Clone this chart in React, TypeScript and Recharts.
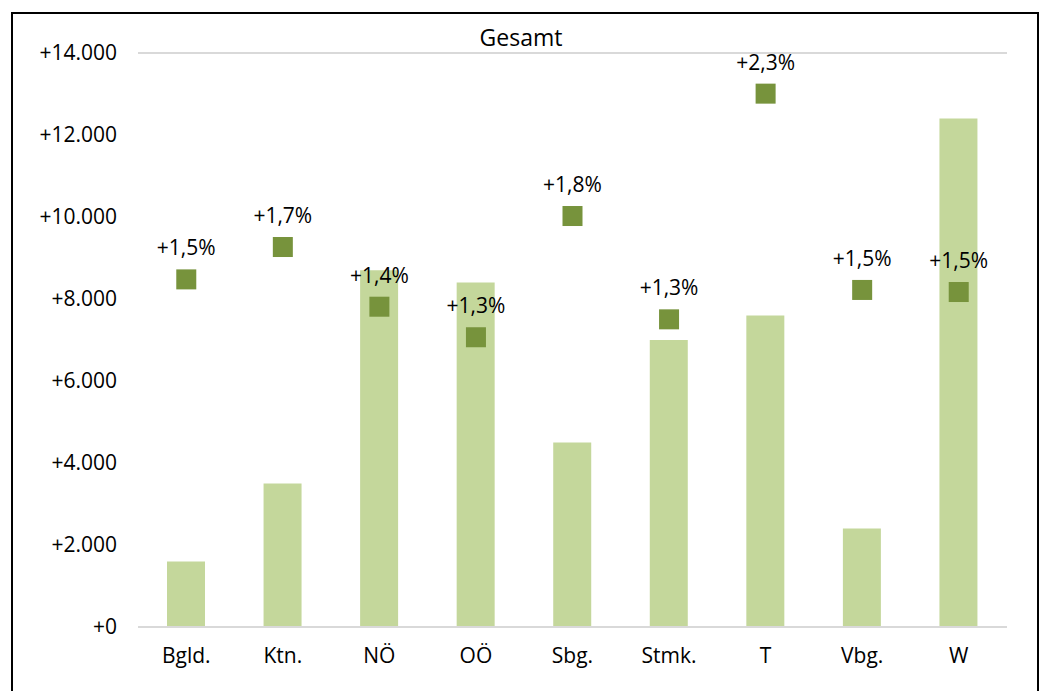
import React from "react";
import { ComposedChart, Bar, Line, XAxis, YAxis, CartesianGrid } from "recharts";

const categories = ["Bgld.", "Ktn.", "NÖ", "OÖ", "Sbg.", "Stmk.", "T", "Vbg.", "W"];
const absoluteValues = [1600, 3500, 8700, 8400, 4500, 7000, 7600, 2400, 12400];
const percentValues = [1.514, 1.655, 1.395, 1.262, 1.79, 1.34, 2.323, 1.468, 1.459];
const yTicks = [0, 2000, 4000, 6000, 8000, 10000, 12000, 14000];

const data = categories.map((name, i) => ({
  name,
  abs: absoluteValues[i],
  pct: percentValues[i],
}));

const FONT = "'Open Sans', 'Noto Sans', sans-serif";

const fmtAbs = (v: number) => "+" + v.toLocaleString("de-DE");
const fmtPct = (v: number) => "+" + v.toFixed(1).replace(".", ",") + "%";

const SquareDot = (props: any) => {
  const { cx, cy, index } = props;
  if (cx == null || cy == null) return null;
  return <rect key={`sq-${index}`} x={cx - 10} y={cy - 10} width={20} height={20} fill="#77933c" />;
};

const PctLabel = (props: any) => {
  const { x, y, value, index } = props;
  if (x == null || y == null) return null;
  return (
    <text
      key={`lbl-${index}`}
      x={x}
      y={y - 32}
      textAnchor="middle"
      dominantBaseline="central"
      fontFamily={FONT}
      fontSize={21}
      fill="#000"
    >
      {fmtPct(value)}
    </text>
  );
};

export default function App() {
  return (
    <div style={{ position: "absolute", left: 0, top: 0, width: 1042, height: 691, overflow: "hidden", background: "#fff" }}>
      <div
        style={{
          position: "absolute",
          left: 11,
          top: 12,
          width: 1028,
          height: 720,
          border: "2px solid #000",
          boxSizing: "border-box",
        }}
      />
      <div style={{ position: "absolute", left: 0, top: 0 }}>
        <ComposedChart
          width={1042}
          height={691}
          data={data}
          margin={{ top: 53, right: 35, bottom: 0, left: 0 }}
          barSize={38}
        >
          <text x={521} y={37} textAnchor="middle" dominantBaseline="central" fontFamily={FONT} fontSize={23} fill="#000">
            Gesamt
          </text>
          <CartesianGrid vertical={false} stroke="#d9d9d9" strokeWidth={2} />
          <XAxis
            dataKey="name"
            height={64}
            axisLine={{ stroke: "#d9d9d9", strokeWidth: 2 }}
            tickLine={false}
            tickSize={0}
            tickMargin={21}
            tick={{ fontFamily: FONT, fontSize: 21, fill: "#000" }}
            interval={0}
          />
          <YAxis
            yAxisId="abs"
            width={138}
            domain={[0, 14000]}
            ticks={yTicks}
            tickFormatter={fmtAbs}
            axisLine={false}
            tickLine={false}
            tickSize={0}
            tickMargin={21}
            tick={{ fontFamily: FONT, fontSize: 21, fill: "#000" }}
            interval={0}
          />
          <YAxis yAxisId="pct" orientation="right" hide domain={[0, 2.5]} />
          <Bar yAxisId="abs" dataKey="abs" fill="#c4d79b" isAnimationActive={false} />
          <Line
            yAxisId="pct"
            dataKey="pct"
            stroke="none"
            strokeWidth={0}
            dot={<SquareDot />}
            activeDot={false}
            label={<PctLabel />}
            isAnimationActive={false}
          />
        </ComposedChart>
      </div>
    </div>
  );
}
